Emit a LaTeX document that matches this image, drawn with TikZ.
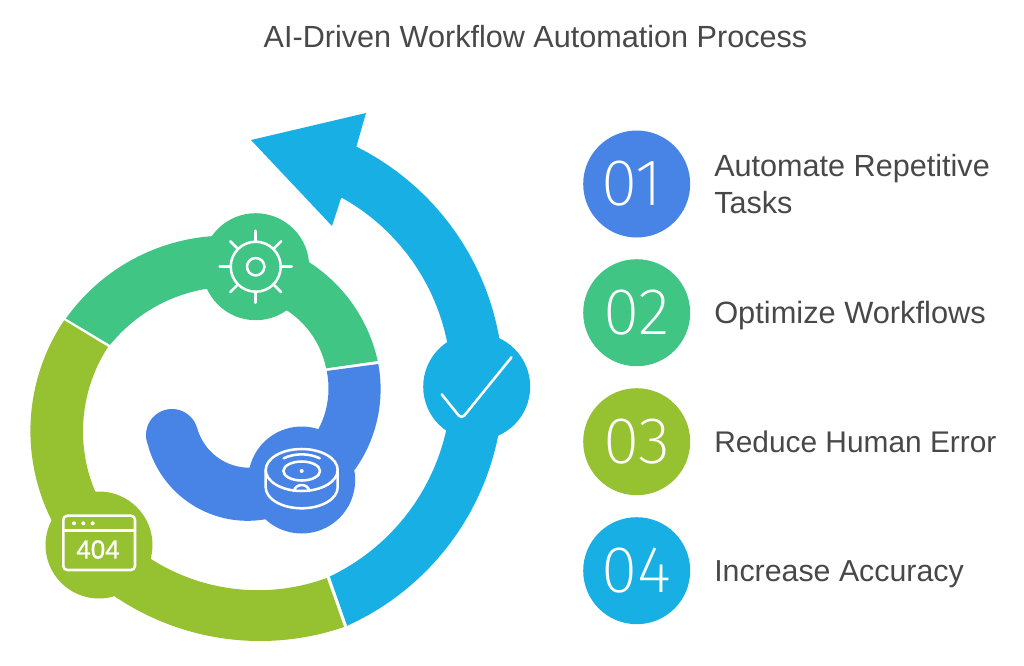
\documentclass[tikz,border=0pt]{standalone}
\usepackage{fontspec}
\usetikzlibrary{calc}
\setmainfont{Liberation Sans}
\newfontfamily\digitfont{Fira Sans ExtraLight}
\newfontfamily\codefont{Liberation Sans}[FakeBold=1]
\definecolor{cblue}{HTML}{4884E6}
\definecolor{cgreen}{HTML}{40C585}
\definecolor{clime}{HTML}{96C130}
\definecolor{ccyan}{HTML}{18B0E4}
\definecolor{ctext}{HTML}{484848}
\tikzset{
  badge/.style={circle,inner sep=0pt,minimum size=80.25pt,fill=#1},
  numeral/.style={circle,inner sep=0pt,minimum size=80.25pt,fill=#1,text=white,
    font=\digitfont\fontsize{49.5}{49.5}\selectfont},
  label/.style={anchor=base west,inner sep=0pt,text=ctext,font=\fontsize{#1}{27.7}\selectfont},
  icon/.style={draw=white,line width=1.9pt,line cap=round,line join=round},
  every plot/.style={samples=50},
}
\begin{document}
\begin{tikzpicture}[x=0.75pt,y=-0.75pt]
\useasboundingbox (0,0) rectangle (1024,665);

% title
\node[anchor=base,inner sep=0pt,text=ctext,font=\fontsize{22.95}{26}\selectfont] (title) at (535.5,47) {AI-Driven Workflow Automation Process};

% outer arrow band
\fill[ccyan] plot[domain=65.7:-63.5] ({238+265.3*cos(\x)},{384+265.3*sin(\x)})
  -- (366,113) -- (251,140) -- (332,226) -- (341,198.3)
  -- plot[domain=-60.8:64.5] ({238+213.3*cos(\x)},{384+213.3*sin(\x)}) -- cycle;

% lime band
\fill[clime] plot[domain=71.05:124] ({260+259*cos(\x)},{382+259*sin(\x)})
  -- plot[domain=153.4:213.9] ({229+198.6*cos(\x)},{431+198.6*sin(\x)})
  -- plot[domain=213.1:157.3] ({237.5+154.5*cos(\x)},{431.3+154.5*sin(\x)})
  -- plot[domain=122.5:69.8] ({258+199.2*cos(\x)},{391+199.2*sin(\x)}) -- cycle;

% green band
\fill[cgreen] plot[domain=215.4:265.7] ({226.5+197*cos(\x)},{432.6+197*sin(\x)})
  -- plot[domain=-57.5:-12.4] ({223.4+158*cos(\x)},{394.9+158*sin(\x)})
  -- plot[domain=-11.3:-56.5] ({237.5+90.3*cos(\x)},{386+90.3*sin(\x)})
  -- plot[domain=260.5:219] ({232+156.9*cos(\x)},{443.6+156.9*sin(\x)}) -- cycle;

% inner blue band ending in a round cap
\fill[cblue] plot[domain=-10.4:35.2] ({241.5+139.1*cos(\x)},{389.1+139.1*sin(\x)})
  -- plot[domain=80.3:163.5] ({247.5+103.4*cos(\x)},{417.4+103.4*sin(\x)})
  -- plot[domain=153.7:345.2] ({172+26*cos(\x)},{435+26*sin(\x)})
  -- plot[domain=164.1:90] ({249.4+54.2*cos(\x)},{413.5+54.2*sin(\x)})
  -- plot[domain=28:-11.7] ({242+86.5*cos(\x)},{388.5+86.5*sin(\x)}) -- cycle;

% badges on the bands
\node[badge=ccyan] (check) at (476.7,386.7) {};
\node[badge=cgreen] (gear) at (255.7,266.7) {};
\node[badge=cblue] (robot) at (301.7,480) {};
\node[badge=clime] (window) at (99,545) {};

% tick
\draw[icon,rounded corners=3.5pt] (441.7,394.3) -- (461.5,419) -- (511.5,357.3);

% gear
\draw[icon] (gear) circle[radius=25];
\draw[icon] (gear) circle[radius=8.7];
\foreach \a in {0,45,...,315}
  \draw[icon] ($(gear)+(\a:25)$) -- ($(gear)+(\a:36)$);

% robot vacuum
\begin{scope}[shift={(robot)}]
  \draw[icon] (0,-10) ellipse [x radius=36,y radius=21];
  \draw[icon] (-36,-10) -- (-36,7.3) arc[start angle=180,end angle=0,x radius=36,y radius=21] -- (36,-10);
  \draw[icon] (0,-9) ellipse [x radius=18.3,y radius=9.5];
  \fill[white] (0,-9) circle[radius=2];
  \draw[icon] (-18,-21.7) .. controls (-7,-27) and (7,-27) .. (18,-21.7);
  \draw[icon] (-7.7,11) .. controls (-6,3) and (6,3) .. (7.7,11);
\end{scope}

% error page window
\draw[icon,rounded corners=3pt] (63.3,515.7) rectangle (135,570);
\draw[icon] (63.3,530.7) -- (135,530.7);
\foreach \dx in {74,83.3,92.7}
  \fill[white] (\dx,523.3) circle[radius=2];
\node[inner sep=0pt,text=white,font=\codefont\fontsize{19.5}{20}\selectfont] (code) at (98,549.5) {404};

% numbered list
\node[numeral=cblue] (n1) at (636.7,184) {01\kern7pt};
\node[numeral=cgreen] (n2) at (636.7,312.7) {02};
\node[numeral=clime] (n3) at (636.7,441.7) {03};
\node[numeral=ccyan] (n4) at (636.7,570.7) {04};

\node[label=22.95,align=left] (l1) at (714,213.3) {Automate Repetitive\\Tasks};
\node[label=23.1] (l2) at (714,323.3) {Optimize Workflows};
\node[label=22.4] (l3) at (714,452.7) {Reduce Human Error};
\node[label=22.75] (l4) at (714,581) {Increase Accuracy};
\end{tikzpicture}
\end{document}
